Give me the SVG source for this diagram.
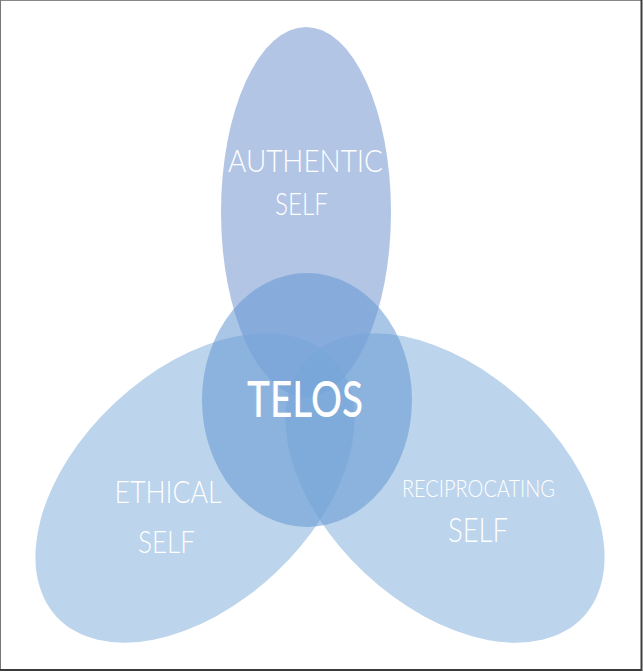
<svg xmlns="http://www.w3.org/2000/svg" width="643" height="672" viewBox="0 0 643 672">
  <style>
    .lbl { font-family: Lato, "Open Sans", "Liberation Sans", sans-serif; font-weight: 300; fill: #ffffff; text-anchor: middle; }
    .main { font-family: Lato, "Open Sans", "Liberation Sans", sans-serif; font-weight: 500; fill: #ffffff; text-anchor: middle; }
    .top { fill: #7f9fd4; fill-opacity: 0.6; }
    .side { fill: #8fb8e0; fill-opacity: 0.6; }
    .mid { fill: #6598d4; fill-opacity: 0.55; }
  </style>
  <rect x="0" y="0" width="643" height="672" fill="#ffffff"/>
  <g id="authentic">
    <ellipse class="top" cx="306" cy="212" rx="85" ry="185"/>
  </g>
  <g id="ethical">
    <ellipse class="side" cx="0" cy="0" rx="189" ry="117" transform="translate(195 488) rotate(-43)"/>
  </g>
  <g id="reciprocating">
    <ellipse class="side" cx="0" cy="0" rx="189" ry="117" transform="translate(445 488) rotate(43)"/>
  </g>
  <g id="telos">
    <ellipse class="mid" cx="307" cy="400" rx="105" ry="127"/>
  </g>
  <g id="connectors"></g>
  <g id="labels">
    <text class="lbl" x="305.5" y="172" font-size="32" textLength="155" lengthAdjust="spacingAndGlyphs">AUTHENTIC</text>
    <text class="lbl" x="301.5" y="215" font-size="32" textLength="53" lengthAdjust="spacingAndGlyphs">SELF</text>
    <text class="main" x="305" y="417" font-size="51" textLength="116" lengthAdjust="spacingAndGlyphs">TELOS</text>
    <text class="lbl" x="168" y="503" font-size="32" textLength="107" lengthAdjust="spacingAndGlyphs">ETHICAL</text>
    <text class="lbl" x="166.5" y="553" font-size="32" textLength="57" lengthAdjust="spacingAndGlyphs">SELF</text>
    <text class="lbl" x="478.5" y="497" font-size="23" textLength="153" lengthAdjust="spacingAndGlyphs">RECIPROCATING</text>
    <text class="lbl" x="478" y="542" font-size="34" textLength="60" lengthAdjust="spacingAndGlyphs">SELF</text>
  </g>
  <line x1="0" y1="0.5" x2="641" y2="0.5" stroke="#888888" stroke-width="1"/>
  <line x1="0.5" y1="0" x2="0.5" y2="670" stroke="#777777" stroke-width="1"/>
  <line x1="641.5" y1="0" x2="641.5" y2="671" stroke="#3c3c3c" stroke-width="2"/>
  <line x1="0" y1="670" x2="642" y2="670" stroke="#3c3c3c" stroke-width="2"/>
</svg>
